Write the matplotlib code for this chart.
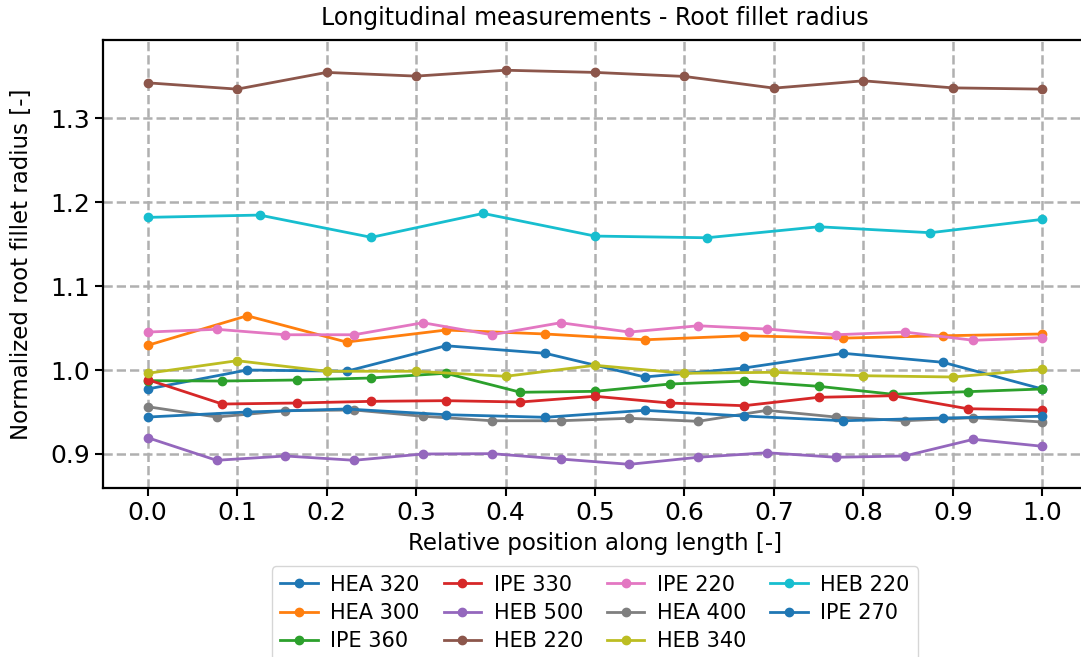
import numpy as np
import matplotlib
matplotlib.use("Agg")
import matplotlib.pyplot as plt

# ── measured profiles (normalized root fillet radius) ──
hea320 = [0.9774, 1.0000, 0.9985, 1.0289, 1.0199, 0.9917, 1.0024, 1.0199, 1.0092, 0.9774]
hea300 = [1.0294, 1.0646, 1.0333, 1.0476, 1.0429, 1.0360, 1.0408, 1.0380, 1.0408, 1.0429]
ipe360 = [0.9873, 0.9869, 0.9881, 0.9905, 0.9961, 0.9735, 0.9746, 0.9833, 0.9869, 0.9806,
          0.9711, 0.9742, 0.9774]
ipe330 = [0.9885, 0.9595, 0.9607, 0.9627, 0.9635, 0.9619, 0.9687, 0.9607, 0.9575, 0.9675,
          0.9694, 0.9539, 0.9524]
heb500 = [0.9194, 0.8925, 0.8976, 0.8925, 0.9000, 0.9004, 0.8940, 0.8877, 0.8961, 0.9015,
          0.8961, 0.8976, 0.9175, 0.9092]
heb220_a = [1.3420, 1.3345, 1.3544, 1.3500, 1.3570, 1.3544, 1.3496, 1.3357, 1.3444, 1.3360,
            1.3345]
ipe220 = [1.0452, 1.0485, 1.0420, 1.0420, 1.0563, 1.0420, 1.0563, 1.0452, 1.0527, 1.0488,
          1.0420, 1.0452, 1.0354, 1.0385]
hea400 = [0.9563, 0.9440, 0.9515, 0.9524, 0.9449, 0.9396, 0.9396, 0.9425, 0.9389, 0.9520,
          0.9440, 0.9396, 0.9432, 0.9381]
heb340 = [0.9961, 1.0111, 0.9985, 0.9985, 0.9925, 1.0056, 0.9961, 0.9973, 0.9932, 0.9917,
          1.0008]
heb220_b = [1.1818, 1.1845, 1.1580, 1.1865, 1.1595, 1.1575, 1.1706, 1.1635, 1.1794]
ipe270 = [0.9440, 0.9500, 0.9536, 0.9468, 0.9437, 0.9520, 0.9452, 0.9396, 0.9429, 0.9449]

labels = ["HEA 320", "HEA 300", "IPE 360", "IPE 330", "HEB 500", "HEB 220",
          "IPE 220", "HEA 400", "HEB 340", "HEB 220", "IPE 270"]
series = [hea320, hea300, ipe360, ipe330, heb500, heb220_a,
          ipe220, hea400, heb340, heb220_b, ipe270]

plt.rcParams["font.family"] = ["DejaVu Sans"]

fig = plt.figure(figsize=(10.81, 6.57), dpi=100)
W, H = 1081, 657
# axes box in pixels: left 103, right ~1087, top 40, bottom 488
ax = fig.add_axes([103 / W, (H - 488) / H, (1087 - 103) / W, (488 - 40) / H])

for lab, vals in zip(labels, series):
    # measuring points are evenly spread along the member length
    pos = np.linspace(0, 1, len(vals))
    ax.plot(pos, vals, marker="o", ms=6, lw=2.0, label=lab)

ax.set_xlim(-0.05, 1.05)
ax.set_ylim(0.8595, 1.393)
ax.set_xticks(np.round(np.arange(0, 1.01, 0.1), 1))
ax.set_yticks([0.9, 1.0, 1.1, 1.2, 1.3])
ax.tick_params(labelsize=18, length=6, width=1.5)
for sp in ax.spines.values():
    sp.set_linewidth(1.6)

ax.grid(True, linestyle="--", color="#b0b0b0", linewidth=1.8)
ax.set_axisbelow(True)

ax.set_title("Longitudinal measurements - Root fillet radius", fontsize=17, pad=11)
ax.set_xlabel("Relative position along length [-]", fontsize=16.5, labelpad=5)
ax.set_ylabel("Normalized root fillet radius [-]", fontsize=16.5, labelpad=12)

ax.legend(loc="upper center", bbox_to_anchor=(0.5, -0.175), ncol=4, fontsize=15,
          frameon=True, handlelength=1.8, handletextpad=0.6, columnspacing=1.15,
          labelspacing=0.4, borderaxespad=0.0)

fig.savefig("out.png", dpi=100)
